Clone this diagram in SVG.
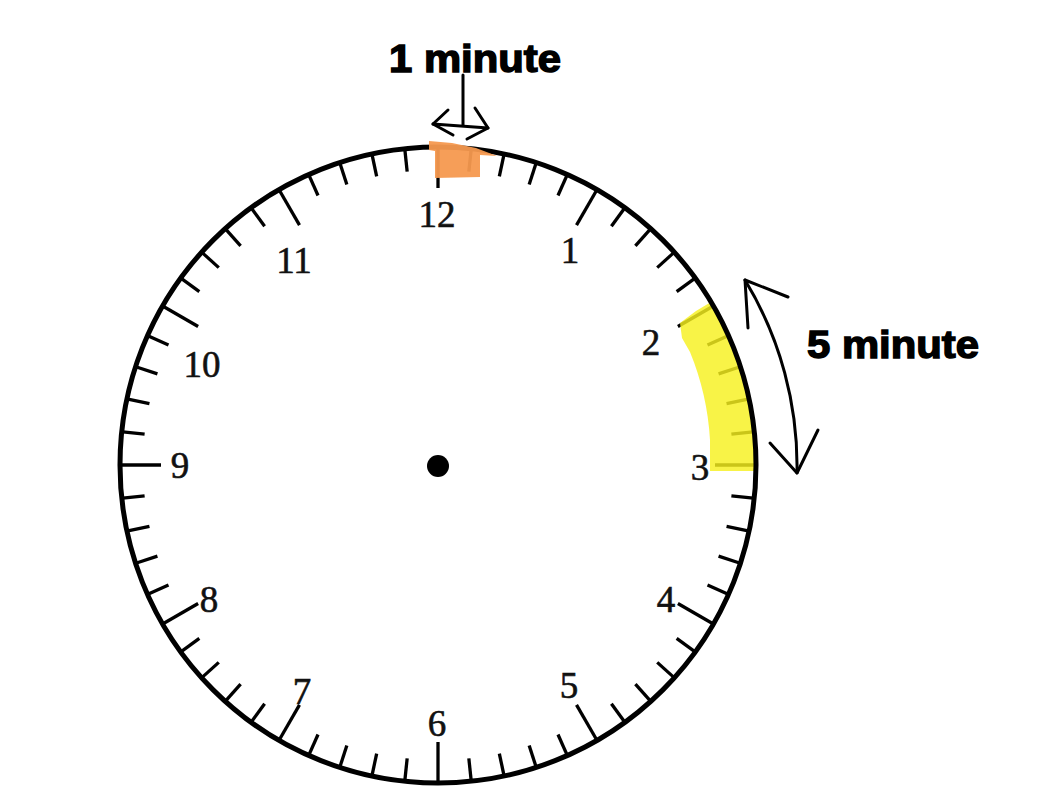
<svg xmlns="http://www.w3.org/2000/svg" xmlns:xlink="http://www.w3.org/1999/xlink" width="1058" height="811" viewBox="0 0 1058 811">
<style>
.tick{stroke:#000;stroke-width:3.3;stroke-linecap:butt}
.num{font-family:"Liberation Serif","Times New Roman",serif;font-size:37px;fill:#111;stroke:#111;stroke-width:0.6;text-anchor:middle}
.lbl{font-family:"Liberation Sans",Arial,sans-serif;font-weight:bold;font-size:38px;fill:#000;stroke:#000;stroke-width:1.4}
.hand{fill:none;stroke:#000;stroke-width:3;stroke-linecap:round;stroke-linejoin:round}
</style>
<defs>
<line id="m" class="tick" x1="438" y1="148" x2="438" y2="170"/>
<line id="h" class="tick" x1="438" y1="148" x2="438" y2="188"/>
</defs>
<rect width="1058" height="811" fill="#fff"/>
<g id="clock">
<g id="ticks">
<use href="#h" transform="rotate(0 438 465)"/><use href="#m" transform="rotate(6 438 465)"/><use href="#m" transform="rotate(12 438 465)"/><use href="#m" transform="rotate(18 438 465)"/><use href="#m" transform="rotate(24 438 465)"/>
<use href="#h" transform="rotate(30 438 465)"/><use href="#m" transform="rotate(36 438 465)"/><use href="#m" transform="rotate(42 438 465)"/><use href="#m" transform="rotate(48 438 465)"/><use href="#m" transform="rotate(54 438 465)"/>
<use href="#h" transform="rotate(60 438 465)"/><use href="#m" transform="rotate(66 438 465)"/><use href="#m" transform="rotate(72 438 465)"/><use href="#m" transform="rotate(78 438 465)"/><use href="#m" transform="rotate(84 438 465)"/>
<use href="#h" transform="rotate(90 438 465)"/><use href="#m" transform="rotate(96 438 465)"/><use href="#m" transform="rotate(102 438 465)"/><use href="#m" transform="rotate(108 438 465)"/><use href="#m" transform="rotate(114 438 465)"/>
<use href="#h" transform="rotate(120 438 465)"/><use href="#m" transform="rotate(126 438 465)"/><use href="#m" transform="rotate(132 438 465)"/><use href="#m" transform="rotate(138 438 465)"/><use href="#m" transform="rotate(144 438 465)"/>
<use href="#h" transform="rotate(150 438 465)"/><use href="#m" transform="rotate(156 438 465)"/><use href="#m" transform="rotate(162 438 465)"/><use href="#m" transform="rotate(168 438 465)"/><use href="#m" transform="rotate(174 438 465)"/>
<use href="#h" transform="rotate(180 438 465)"/><use href="#m" transform="rotate(186 438 465)"/><use href="#m" transform="rotate(192 438 465)"/><use href="#m" transform="rotate(198 438 465)"/><use href="#m" transform="rotate(204 438 465)"/>
<use href="#h" transform="rotate(210 438 465)"/><use href="#m" transform="rotate(216 438 465)"/><use href="#m" transform="rotate(222 438 465)"/><use href="#m" transform="rotate(228 438 465)"/><use href="#m" transform="rotate(234 438 465)"/>
<use href="#h" transform="rotate(240 438 465)"/><use href="#m" transform="rotate(246 438 465)"/><use href="#m" transform="rotate(252 438 465)"/><use href="#m" transform="rotate(258 438 465)"/><use href="#m" transform="rotate(264 438 465)"/>
<use href="#h" transform="rotate(270 438 465)"/><use href="#m" transform="rotate(276 438 465)"/><use href="#m" transform="rotate(282 438 465)"/><use href="#m" transform="rotate(288 438 465)"/><use href="#m" transform="rotate(294 438 465)"/>
<use href="#h" transform="rotate(300 438 465)"/><use href="#m" transform="rotate(306 438 465)"/><use href="#m" transform="rotate(312 438 465)"/><use href="#m" transform="rotate(318 438 465)"/><use href="#m" transform="rotate(324 438 465)"/>
<use href="#h" transform="rotate(330 438 465)"/><use href="#m" transform="rotate(336 438 465)"/><use href="#m" transform="rotate(342 438 465)"/><use href="#m" transform="rotate(348 438 465)"/><use href="#m" transform="rotate(354 438 465)"/>
</g>
<path id="yellow" d="M680,323 L696,311 L711,302 A318 318 0 0 1 755,471 L710,471 L710,440 A273 273 0 0 0 690,352 L682,338 Z" fill="#F7F01E" fill-opacity="0.82"/>
<circle cx="438" cy="465" r="318" fill="none" stroke="#000" stroke-width="5"/>
<path id="orange" d="M429,141 L452,143 L476,148 L497,156 L480,155 L480,177 L435,178 L435,151 L429,150 Z" fill="#F5994F" fill-opacity="0.95"/>
<circle cx="438" cy="466" r="11" fill="#000"/>
<g id="numbers">
<text class="num" x="437" y="227">12</text>
<text class="num" x="570" y="263">1</text>
<text class="num" x="651" y="355">2</text>
<text class="num" x="700" y="480">3</text>
<text class="num" x="666" y="612">4</text>
<text class="num" x="569" y="698">5</text>
<text class="num" x="437" y="736">6</text>
<text class="num" x="302" y="704">7</text>
<text class="num" x="209" y="612">8</text>
<text class="num" x="180" y="478">9</text>
<text class="num" x="202" y="377">10</text>
<text class="num" x="294" y="273">11</text>
</g>
</g>
<g id="label-1min">
<text class="lbl" x="389" y="72" textLength="172" lengthAdjust="spacingAndGlyphs">1 minute</text>
</g>
<g id="label-5min">
<text class="lbl" x="807" y="358" textLength="172" lengthAdjust="spacingAndGlyphs">5 minute</text>
</g>
<g id="connectors">
<path class="hand" d="M463,75 L463,125"/>
<path class="hand" d="M433,124 L488,128"/>
<path class="hand" d="M448,110 L433,124 L453,135"/>
<path class="hand" d="M475,108 L488,128 L467,139"/>
<path class="hand" d="M745,280 A359 359 0 0 1 797,473"/>
<path class="hand" d="M788,297 L745,280 L748,328"/>
<path class="hand" d="M770,443 L797,473 L818,430"/>
</g>
</svg>
